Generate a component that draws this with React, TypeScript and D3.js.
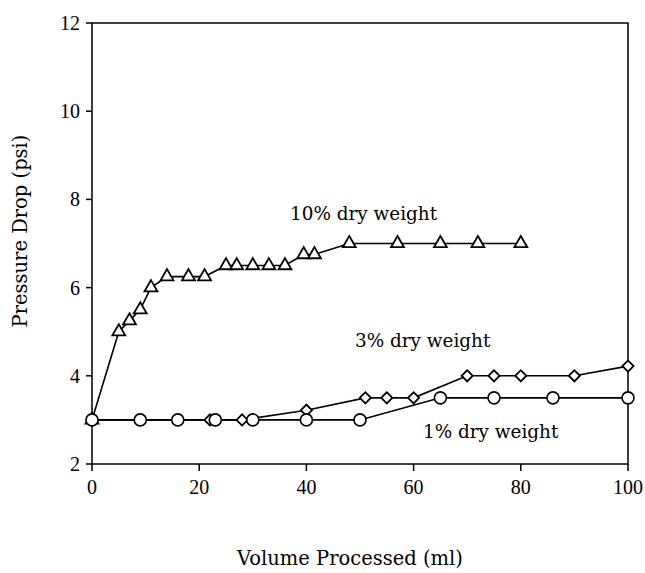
import React from "react";
import * as d3 from "d3";

const xTicks = [0, 20, 40, 60, 80, 100];
const yTicks = [2, 4, 6, 8, 10, 12];

const tenX = [0, 5, 7, 9, 11, 14, 18, 21, 25, 27, 30, 33, 36, 39.5, 41.5, 48, 57, 65, 72, 80];
const tenY = [3, 5, 5.25, 5.5, 6, 6.25, 6.25, 6.25, 6.5, 6.5, 6.5, 6.5, 6.5, 6.75, 6.75, 7, 7, 7, 7, 7];

const threeX = [0, 22, 28, 40, 51, 55, 60, 70, 75, 80, 90, 100];
const threeY = [3, 3, 3, 3.22, 3.5, 3.5, 3.5, 4, 4, 4, 4, 4.22];

const oneX = [0, 9, 16, 23, 30, 40, 50, 65, 75, 86, 100];
const oneY = [3, 3, 3, 3, 3, 3, 3, 3.5, 3.5, 3.5, 3.5];

const W = 645;
const H = 573;
const L = 92, R = 628, T = 23, B = 464;

export default function App() {
  const x = d3.scaleLinear().domain([0, 100]).range([L, R]);
  const y = d3.scaleLinear().domain([2, 12]).range([B, T]);
  const line = d3.line<[number, number]>().x((d) => x(d[0])).y((d) => y(d[1]));
  const pts = (xs: number[], ys: number[]) => xs.map((v, i) => [v, ys[i]] as [number, number]);
  const ten = pts(tenX, tenY);
  const three = pts(threeX, threeY);
  const one = pts(oneX, oneY);
  const tri = d3.symbol().type(d3.symbolTriangle).size(72)();
  const dia = d3.symbol().type(d3.symbolSquare).size(62)();
  const tickFont = "'Liberation Serif', serif";
  const labFont = "'DejaVu Serif', serif";
  return (
    <svg width={W} height={H} style={{ position: "absolute", left: 0, top: 0, background: "#fff" }}>
      <rect x={L} y={T} width={R - L} height={B - T} fill="none" stroke="#000" strokeWidth={1.5} />
      {yTicks.map((t) => (
        <g key={"y" + t}>
          <line x1={L - 6} x2={L} y1={y(t)} y2={y(t)} stroke="#000" strokeWidth={1.5} />
          <text x={L - 12} y={y(t)} dy="0.35em" textAnchor="end" fontFamily={tickFont} fontSize={20}>{t}</text>
        </g>
      ))}
      {xTicks.map((t) => (
        <g key={"x" + t}>
          <line x1={x(t)} x2={x(t)} y1={B} y2={B + 7} stroke="#000" strokeWidth={1.5} />
          <text x={x(t)} y={B + 30} textAnchor="middle" fontFamily={tickFont} fontSize={20}>{t}</text>
        </g>
      ))}
      <path d={line(one) || ""} fill="none" stroke="#000" strokeWidth={1.6} />
      <path d={line(three) || ""} fill="none" stroke="#000" strokeWidth={1.6} />
      <path d={line(ten) || ""} fill="none" stroke="#000" strokeWidth={1.6} />
      {three.map((d, i) => (
        <path key={"d" + i} d={dia || ""} transform={`translate(${x(d[0])},${y(d[1])}) rotate(45)`} fill="#fff" stroke="#000" strokeWidth={1.8} />
      ))}
      {ten.map((d, i) => (
        <path key={"t" + i} d={tri || ""} transform={`translate(${x(d[0])},${y(d[1])})`} fill="#fff" stroke="#000" strokeWidth={1.8} />
      ))}
      {one.map((d, i) => (
        <circle key={"c" + i} cx={x(d[0])} cy={y(d[1])} r={6} fill="#fff" stroke="#000" strokeWidth={1.6} />
      ))}
      <text x={290} y={220} fontFamily={labFont} fontSize={18.4}>10% dry weight</text>
      <text x={355} y={347} fontFamily={labFont} fontSize={18.4}>3% dry weight</text>
      <text x={423} y={438} fontFamily={labFont} fontSize={18.4}>1% dry weight</text>
      <text x={350} y={565} textAnchor="middle" fontFamily={labFont} fontSize={19.5}>Volume Processed (ml)</text>
      <text transform={`translate(27,231) rotate(-90)`} textAnchor="middle" fontFamily={labFont} fontSize={19.5}>Pressure Drop (psi)</text>
    </svg>
  );
}
